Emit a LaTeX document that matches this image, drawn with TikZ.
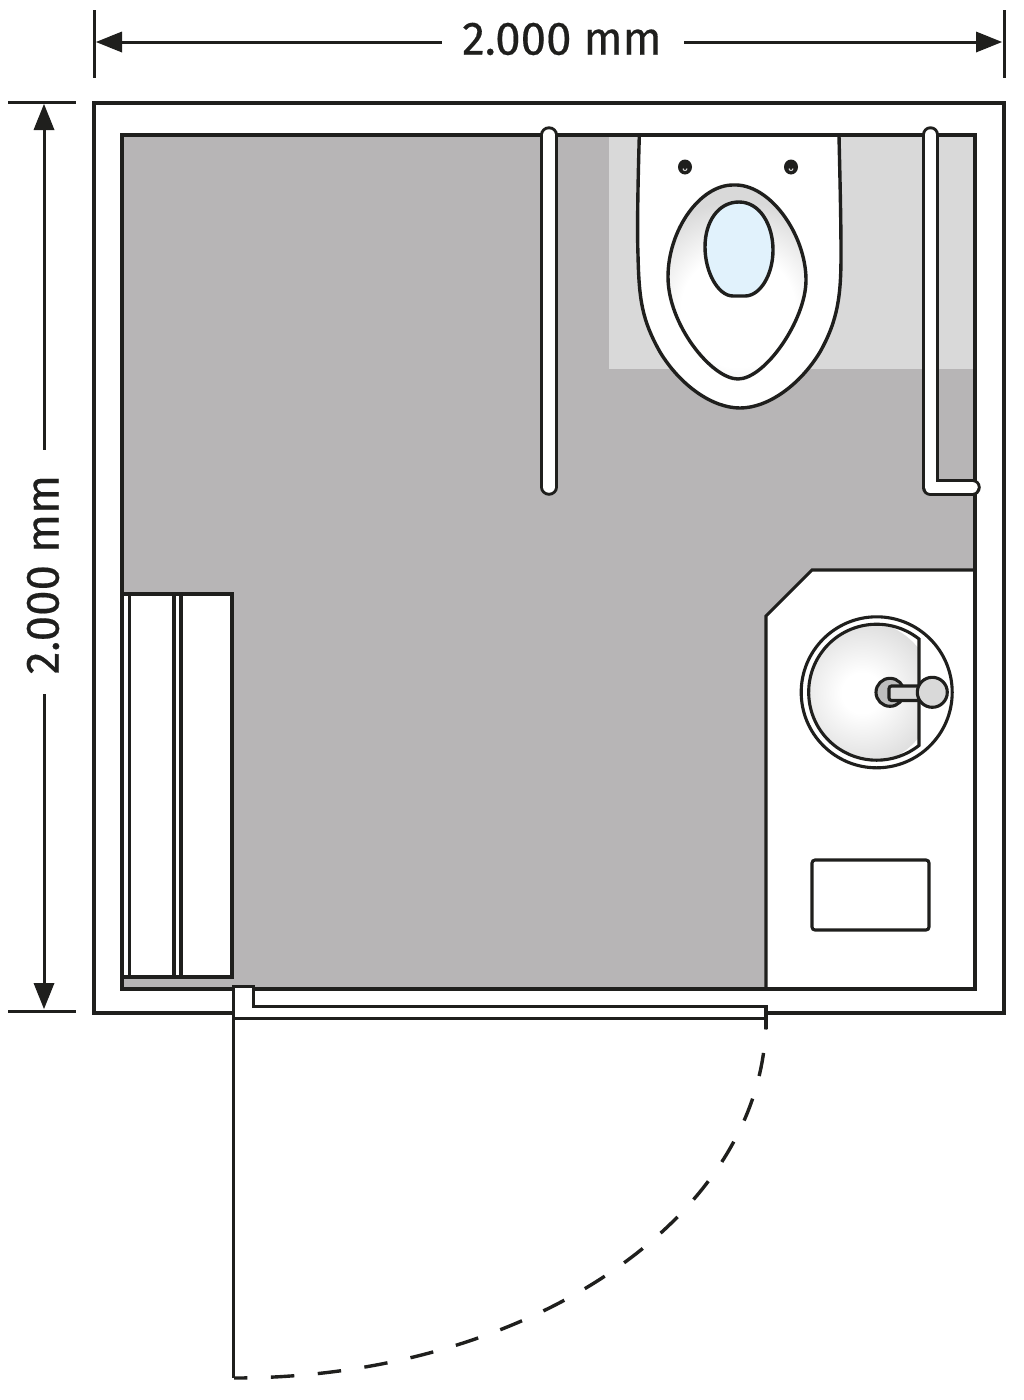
\documentclass[tikz,border=0pt]{standalone}
\usepackage{fontspec}
\setmainfont{Fira Sans}[FakeStretch=0.97,FakeBold=0.35]
\usetikzlibrary{calc}
\definecolor{ink}{HTML}{1F1F1D}
\definecolor{floorgray}{HTML}{B7B5B6}
\definecolor{lightgray}{HTML}{D9D9D9}
\definecolor{waterblue}{HTML}{E1F2FC}
\definecolor{tapgray}{HTML}{BEBEBE}
\tikzset{
  wall/.style={draw=ink,line width=3.4pt},
  thin wall/.style={draw=ink,line width=3.1pt},
  dimline/.style={draw=ink,line width=3pt},
  dimtick/.style={draw=ink,line width=3pt},
  arrowhead/.style={fill=ink,draw=none},
  dimlabel/.style={text=ink,font=\fontsize{47}{47}\selectfont,inner sep=0pt},
  barout/.style={draw=ink,line width=17.5pt,line cap=round,line join=round},
  barin/.style={draw=white,line width=11.5pt,line cap=round,line join=round},
  outline/.style={line width=3.4pt,draw=ink},
}
\pgfdeclareradialshading{bowlshade}{\pgfpoint{0bp}{0bp}}{%
  color(0bp)=(white); color(11bp)=(white); color(21bp)=(lightgray); color(50bp)=(lightgray)}
\pgfdeclareradialshading{sinkshade}{\pgfpoint{0bp}{0bp}}{%
  color(0bp)=(white); color(7bp)=(white); color(28bp)=(lightgray); color(50bp)=(lightgray)}
\begin{document}
\begin{tikzpicture}[x=1pt,y=-1pt]
\useasboundingbox (0,0) rectangle (1023,1400);
% walls and floor
\draw[wall,fill=white] (94,103) rectangle (1004,1013);
\fill[floorgray] (122,135) rectangle (975,989);
\fill[lightgray] (609,137) rectangle (973,369);
% door opening: removes the outer wall line
\fill[white] (234,1005) rectangle (766,1020);
% counter
\draw[thin wall,fill=white] (975,570) -- (812,570) -- (766,616) -- (766,989) -- (975,989);
% bench
\draw[thin wall,fill=white] (122,594) -- (232,594) -- (232,977) -- (122,977);
\draw[thin wall] (129.5,594) -- (129.5,977);
\draw[thin wall] (174,594) -- (174,977);
\draw[thin wall] (181,594) -- (181,977);
% WC
\draw[outline,fill=white] (639.3,136) .. controls (638,180) and (637,230) .. (638,255)
  .. controls (639,300) and (642,320) .. (660,352)
  .. controls (680,385) and (712,408) .. (740,408)
  .. controls (768,408) and (800,385) .. (820,352)
  .. controls (838,320) and (841,295) .. (841,255)
  .. controls (841,220) and (840,180) .. (839,136);
\draw[wall] (122,135) rectangle (975,989);
\begin{scope}
\path[clip] (733,185) .. controls (770,183) and (806,235) .. (806,280)
  .. controls (806,320) and (765,379) .. (738,379)
  .. controls (712,379) and (668,325) .. (668,277)
  .. controls (668,230) and (700,185) .. (733,185) -- cycle;
\shade[shading=bowlshade] (738,310) circle (130);
\end{scope}
\draw[outline] (733,185) .. controls (770,183) and (806,235) .. (806,280)
  .. controls (806,320) and (765,379) .. (738,379)
  .. controls (712,379) and (668,325) .. (668,277)
  .. controls (668,230) and (700,185) .. (733,185) -- cycle;
\draw[outline,fill=waterblue] (739,202) .. controls (760,202) and (773,225) .. (773,250)
  .. controls (773,275) and (760,296) .. (745,296) -- (733,296)
  .. controls (718,296) and (705,272) .. (705,247)
  .. controls (705,222) and (718,202) .. (739,202) -- cycle;
\foreach \bx in {685,791}{
  \fill[ink] (\bx,167) ellipse (7 and 7.5);
  \draw[white!85!ink,line width=1pt] (\bx-2,168.5) arc[start angle=180,end angle=0,radius=2];
}
% grab bars
\draw[barout] (549,135) -- (549,487);
\draw[barin] (549,135) -- (549,487);
\draw[barout] (930.5,135) -- (930.5,487.3) -- (972,487.3);
\draw[barin] (930.5,135) -- (930.5,487.3) -- (972,487.3);
% basin
\draw[thin wall,fill=white] (876.7,692.3) circle (75.5);
\begin{scope}
\path[clip] (919,639) arc[start angle=-51.5,end angle=-308.5,radius=68] -- cycle;
\shade[shading=sinkshade] (862,693) circle (72);
\end{scope}
\draw[thin wall] (919,639) arc[start angle=-51.5,end angle=-308.5,radius=68] -- cycle;
\draw[thin wall,fill=tapgray] (890,692.3) circle (14);
\draw[thin wall,fill=lightgray,rounded corners=2.5pt] (922,686) -- (889,686) -- (889,700.5) -- (922,700.5);
\draw[thin wall,fill=lightgray] (932.3,692.3) circle (15);
% soap tray
\draw[thin wall,rounded corners=3pt,fill=white] (812,860) rectangle (929,930);
% door
\draw[wall,fill=white,line join=miter] (233.5,1018.3) -- (233.5,986.5) -- (253.5,986.5) -- (253.5,1006.7) -- (766,1006.7) -- (766,1018.3) -- cycle;
\draw[wall] (233.5,1018) -- (233.5,1378);
\draw[wall] (766,1005) -- (766,1029);
\draw[wall,dash pattern=on 23.5pt off 23.56pt,dash phase=12pt] (766,1018) arc[start angle=0,end angle=90,x radius=532,y radius=360];
% dimensions
\coordinate (tl) at (96,42); \coordinate (tla) at (122,42);
\coordinate (tr) at (1002,42); \coordinate (tra) at (976,42);
\coordinate (lt) at (44,104); \coordinate (lta) at (44,130);
\coordinate (lb) at (44,1009); \coordinate (lba) at (44,983);
\node[dimlabel] (toplabel) at (562,39) {2.000 mm};
\node[dimlabel,rotate=90] (leftlabel) at (43,574.5) {2.000 mm};
\coordinate (tg1) at (442,42); \coordinate (tg2) at (684,42);
\coordinate (lg1) at (44,450); \coordinate (lg2) at (44,694);
\draw[dimtick] (94,10) -- (94,78);
\draw[dimtick] (1004,10) -- (1004,78);
\draw[dimtick] (8,102) -- (76,102);
\draw[dimtick] (8,1011) -- (76,1011);
\draw[dimline] (tla) -- (tg1);
\draw[dimline] (tg2) -- (tra);
\draw[dimline] (lta) -- (lg1);
\draw[dimline] (lg2) -- (lba);
\fill[arrowhead] (tl) -- ($(tla)+(0,-10.5)$) -- ($(tla)+(0,10.5)$) -- cycle;
\fill[arrowhead] (tr) -- ($(tra)+(0,-10.5)$) -- ($(tra)+(0,10.5)$) -- cycle;
\fill[arrowhead] (lt) -- ($(lta)+(-10.5,0)$) -- ($(lta)+(10.5,0)$) -- cycle;
\fill[arrowhead] (lb) -- ($(lba)+(-10.5,0)$) -- ($(lba)+(10.5,0)$) -- cycle;
\end{tikzpicture}
\end{document}
